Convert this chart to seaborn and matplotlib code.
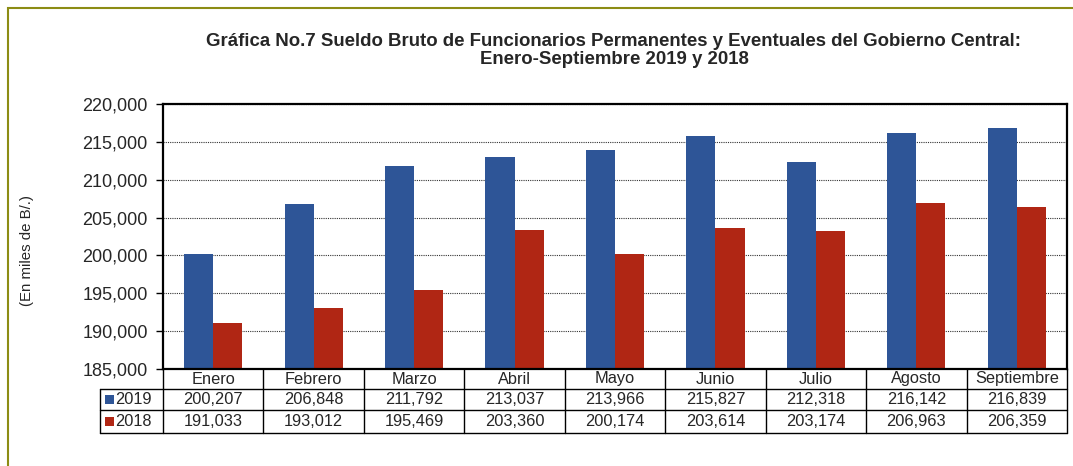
import matplotlib
matplotlib.use("Agg")
import matplotlib.pyplot as plt
import matplotlib.patches as mpatches
import seaborn as sns
import pandas as pd

meses = ["Enero", "Febrero", "Marzo", "Abril", "Mayo", "Junio", "Julio", "Agosto", "Septiembre"]
sueldo_2019 = [200207, 206848, 211792, 213037, 213966, 215827, 212318, 216142, 216839]
sueldo_2018 = [191033, 193012, 195469, 203360, 200174, 203614, 203174, 206963, 206359]
anios = ["2019", "2018"]
colores = {"2019": "#2e5597", "2018": "#b02614"}

df = pd.DataFrame({
    "mes": meses * 2,
    "anio": ["2019"] * 9 + ["2018"] * 9,
    "valor": sueldo_2019 + sueldo_2018,
})

sns.set_style("white")
plt.rcParams["font.family"] = ["Liberation Sans", "DejaVu Sans"]

fig = plt.figure(figsize=(10.73, 4.66), dpi=100)
ax = fig.add_axes([163 / 1073, 1 - 369 / 466, (1067 - 163) / 1073, (369 - 104) / 466])

sns.barplot(data=df, x="mes", y="valor", hue="anio", hue_order=anios,
            palette=colores, width=0.58, ax=ax, legend=False, saturation=1, linewidth=0)

ax.set_ylim(185000, 220000)
ax.set_yticks(range(185000, 220001, 5000))
ax.set_yticklabels([f"{v:,}" for v in range(185000, 220001, 5000)], fontsize=13)
ax.tick_params(axis="y", length=5, width=1, direction="out", color="black", pad=6, left=True)
ax.tick_params(axis="x", bottom=False, labelbottom=False)
ax.set_xlim(-0.5, 8.5)
ax.set_xlabel("")
ax.set_ylabel("")
ax.yaxis.grid(True, linestyle=(0, (1, 1)), color="#333333", linewidth=0.8)
ax.set_axisbelow(True)
for s in ax.spines.values():
    s.set_color("black")
    s.set_linewidth(1.6)

# tabla de datos debajo del grafico
tr = ax.get_xaxis_transform()
h = 1 / 265
filas = [0, -20 * h, -41 * h, -64 * h]
x_leg = -0.5 - 63 / 100.4
lw = 1.0
for i in range(10):
    ax.plot([i - 0.5, i - 0.5], [filas[0], filas[3]], color="black", lw=lw, transform=tr, clip_on=False)
for y in filas[1:]:
    ax.plot([x_leg, 8.5], [y, y], color="black", lw=lw, transform=tr, clip_on=False)
ax.plot([x_leg, x_leg], [filas[1], filas[3]], color="black", lw=lw, transform=tr, clip_on=False)

fs_tabla = 11.8
for i, m in enumerate(meses):
    ax.text(i, (filas[0] + filas[1]) / 2, m, ha="center", va="center", fontsize=fs_tabla, transform=tr)
    ax.text(i, (filas[1] + filas[2]) / 2, f"{sueldo_2019[i]:,}", ha="center", va="center", fontsize=fs_tabla, transform=tr)
    ax.text(i, (filas[2] + filas[3]) / 2, f"{sueldo_2018[i]:,}", ha="center", va="center", fontsize=fs_tabla, transform=tr)

for j, a in enumerate(anios):
    yc = (filas[j + 1] + filas[j + 2]) / 2
    ax.add_patch(mpatches.Rectangle((x_leg + 0.05, yc - 4.5 * h), 0.085, 9 * h, facecolor=colores[a],
                                    edgecolor="none", transform=tr, clip_on=False))
    ax.text(x_leg + 0.15, yc, a, ha="left", va="center", fontsize=fs_tabla, transform=tr)

ax.text(-0.5 - 136 / 100.4, 119 / 265, "(En miles de B/.)", rotation=90, ha="center", va="center",
        fontsize=10.8, transform=tr)

fig.text(614 / 1073, 1 - 42 / 466, "Gráfica No.7 Sueldo Bruto de Funcionarios Permanentes y Eventuales del Gobierno Central:",
         ha="center", va="center", fontsize=13.4, fontweight="bold")
fig.text(614 / 1073, 1 - 60 / 466, "Enero-Septiembre 2019 y 2018",
         ha="center", va="center", fontsize=13.4, fontweight="bold")

# marco exterior
fig.add_artist(mpatches.Rectangle((8 / 1073, -0.1), 1.2, 1 - 8 / 466 + 0.1, transform=fig.transFigure,
                                  fill=False, edgecolor="#8c8c14", linewidth=1.5))

fig.savefig("out.png", dpi=100)
